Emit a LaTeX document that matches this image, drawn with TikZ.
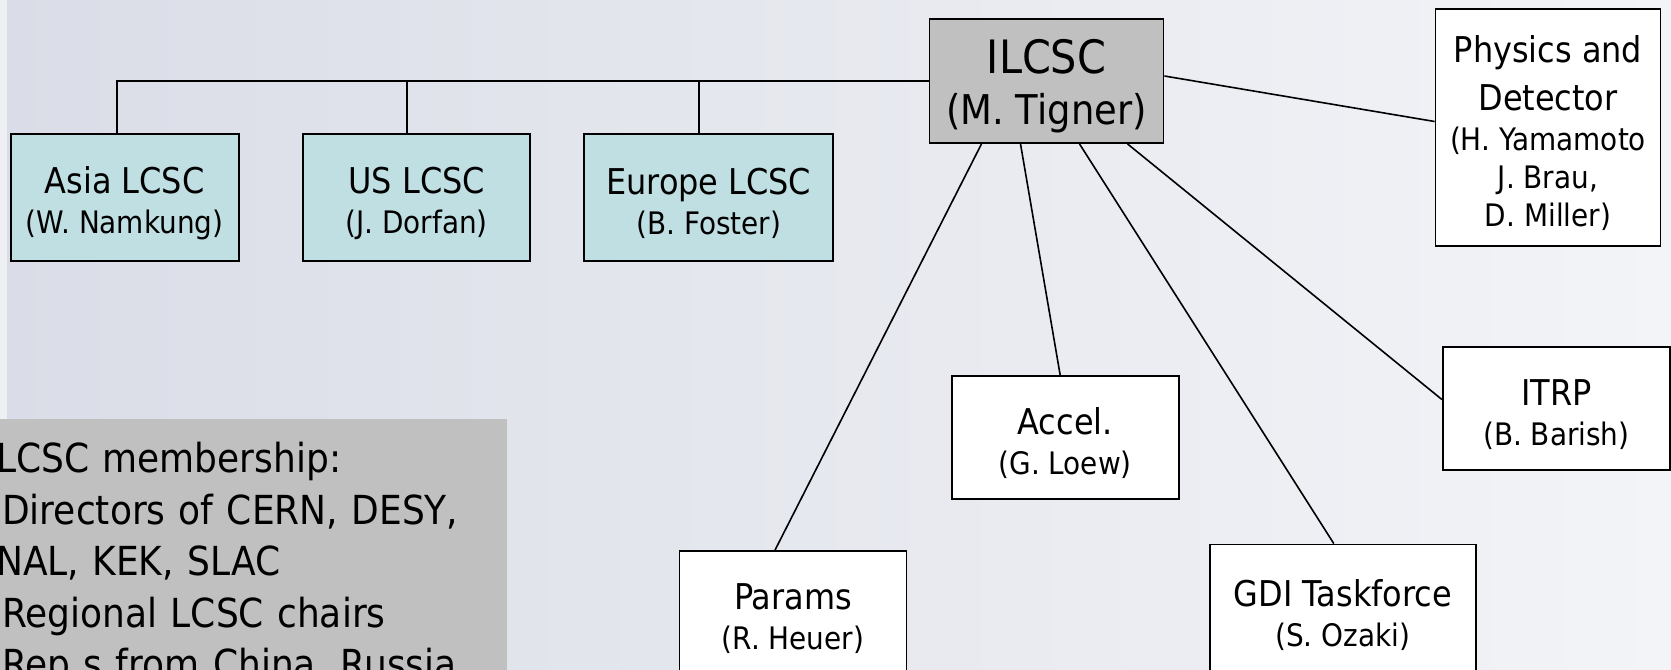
\documentclass[tikz,border=0pt]{standalone}
\usepackage{fontspec}
\setmainfont{DejaVu Sans}[FakeStretch=0.9]
\usepackage{xcolor}
\usepackage{tikz}
\usetikzlibrary{positioning}

\definecolor{bgleft}{RGB}{218,221,231}
\definecolor{bgright}{RGB}{243,244,247}
\definecolor{bgstrip}{RGB}{239,240,244}
\definecolor{lcscblue}{RGB}{192,223,227}
\definecolor{chairgray}{RGB}{192,192,192}

\newcommand{\namefont}{\fontsize{31bp}{40bp}\selectfont}
\newcommand{\tophd}{\rule{0pt}{38bp}}

\begin{document}
\begin{tikzpicture}[x=1bp,y=1bp,node distance=292bp,
    box/.style={rectangle,draw,line width=1.8bp,inner sep=0pt,align=center,
      minimum width=227bp,minimum height=123bp,
      font=\fontsize{35.5bp}{40bp}\selectfont},
    region/.style={box,fill=lcscblue,minimum height=127bp},
    group/.style={box,fill=white},
    link/.style={line width=1.6bp}]
  \useasboundingbox (0,0) rectangle (1671,-670);
  \clip (0,0) rectangle (1671,-670);
  \shade [left color=bgleft,right color=bgright] (0,0) rectangle (1671,-670);
  \fill [bgstrip] (0,0) rectangle (7,-670);

  \node [box,fill=chairgray,minimum width=234bp,minimum height=124bp,
    font=\fontsize{46bp}{51bp}\selectfont] (ilcsc) at (1046.5,-81)
    {\rule{0pt}{45bp}ILCSC\\\fontsize{41bp}{51bp}\selectfont (M. Tigner)};

  % regional committees
  \node [region,minimum width=228bp] (asia) at (124.7,-197.5) {\tophd Asia LCSC\\\namefont (W. Namkung)};
  \node [region] (us) [right of=asia] {\tophd US LCSC\\\namefont (J. Dorfan)};
  \node [region,minimum width=249bp] (europe) [right of=us] {\tophd Europe LCSC\\\namefont (B. Foster)};

  % subcommittees
  \node [group,minimum width=225bp,minimum height=237bp] (phys) at (1548,-127.5)
    {\tophd Physics and\\[7.6bp] Detector\\\namefont (H. Yamamoto\\[-2bp]\namefont J. Brau,\\[-2bp]\namefont D. Miller)};
  \node [group] (itrp) at (1556.3,-408.5) {\tophd ITRP\\\namefont (B. Barish)};
  \node [group] (accel) at (1065.2,-437.7) {\tophd Accel.\\\namefont (G. Loew)};
  \node [group] (params) at (793,-612.5) {\tophd Params\\\namefont (R. Heuer)};
  \node [group,minimum width=266bp,minimum height=130bp] (gdi) at (1342.8,-609.5) {\tophd GDI Taskforce\\\namefont (S. Ozaki)};

  \node [anchor=north west,fill=chairgray,inner xsep=10bp,inner ysep=23bp,
    text width=501bp,align=left,font=\fontsize{40bp}{51.5bp}\selectfont] (members) at (-14,-419)
    {LCSC membership:\\ \hspace*{6bp}Directors of CERN, DESY,\\ NAL, KEK, SLAC\\ \hspace*{6bp}Regional LCSC chairs\\ \hspace*{6bp}Rep s from China, Russia};

  \draw [link] (ilcsc.west) -| ([xshift=-8bp]asia.north);
  \draw [link] ([xshift=-10bp]us.north) |- (ilcsc.west);
  \draw [link] ([xshift=-10bp]europe.north) |- (ilcsc.west);
  \draw [link] ([yshift=5bp]ilcsc.east) -- ([yshift=6bp]phys.west);
  \draw [link] ([xshift=81bp]ilcsc.south) -- ([yshift=9bp]itrp.west);
  \draw [link] ([xshift=33bp]ilcsc.south) -- ([xshift=-9bp]gdi.north);
  \draw [link] ([xshift=-26bp]ilcsc.south) -- ([xshift=-5bp]accel.north);
  \draw [link] ([xshift=-65bp]ilcsc.south) -- ([xshift=-18bp]params.north);
\end{tikzpicture}
\end{document}
